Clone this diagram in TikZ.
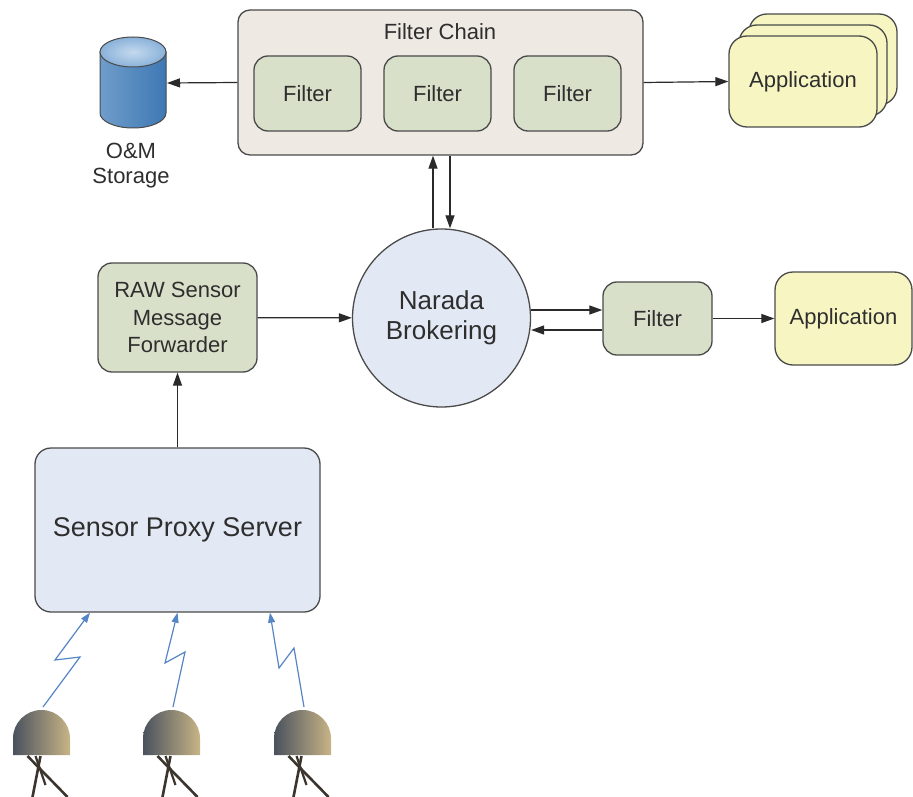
\documentclass[tikz,border=0pt]{standalone}
\usepackage{fontspec}
\setmainfont{Liberation Sans}
\usetikzlibrary{arrows.meta}
\definecolor{bord}{HTML}{4A4A4A}
\definecolor{texte}{HTML}{2E2E2E}
\definecolor{trait}{HTML}{2A2A2A}
\definecolor{beige}{HTML}{EFE9E4}
\definecolor{vert}{HTML}{D9E0C9}
\definecolor{jaune}{HTML}{F7F6C3}
\definecolor{bleuclair}{HTML}{E3E9F4}
\definecolor{bleu}{HTML}{5585C5}
\definecolor{cylG}{HTML}{6F9DCB}
\definecolor{cylD}{HTML}{3E78B3}
\definecolor{cylH}{HTML}{9DC0E3}
\definecolor{domeG}{HTML}{4A525E}
\definecolor{domeM}{HTML}{363A40}
\definecolor{domeD}{HTML}{C8B486}
\definecolor{jambe}{HTML}{3B352E}

\begin{document}
\begin{tikzpicture}[x=1pt,y=-1pt]
\tikzset{boite/.style={draw=bord, line width=1.3pt, rounded corners=14pt, inner sep=0pt, align=center, text=texte, font=\fontsize{22}{27.5}\selectfont},
  filtre/.style={boite, fill=vert, minimum width=107pt, minimum height=75pt},
  appli/.style={boite, fill=jaune, rounded corners=18pt, minimum width=148pt, minimum height=91pt},
  fleche/.style={draw=trait, line width=1.2pt, -{Triangle[length=13pt,width=9pt]}},
  eclair/.style={draw=bleu, line width=1.2pt, -{Triangle[length=10pt,width=7pt]}},
  capteur/.pic={
    \shade[left color=domeG, middle color=domeM, right color=domeD] (-28.5,0) -- (-28.5,-16.5) arc[start angle=180, end angle=360, radius=28.5] -- (28.5,0) -- cycle;
    \draw[jambe, line width=2.6pt] (-14,1) -- (26,42);
    \draw[jambe, line width=2.6pt] (-1,1) -- (-9,42);
    \draw[jambe, line width=2.2pt] (-6,1) -- (4,30);
    \coordinate (-haut) at (1.5,-48);
  }}
\useasboundingbox (0,0) rectangle (913,797);

\node[boite, fill=beige, rounded corners=12pt, minimum width=405pt, minimum height=145pt] (chaine) at (440.5,82.5) {};
\node[text=texte, font=\fontsize{22}{27.5}\selectfont] (titre) at (440,32) {Filter Chain};
\node[filtre] (F1) at (307.5,93.5) {Filter};
\node[filtre] (F2) at (437.5,93.5) {Filter};
\node[filtre] (F3) at (567.5,93.5) {Filter};

\node[appli] (A3) at (823,59.5) {};
\node[appli] (A2) at (813,70.5) {};
\node[appli] (A1) at (803,81.5) {Application};

\shade[left color=cylG, middle color=white!90!cylH, right color=cylD, draw=bord, line width=1pt] (100,52) -- (100,113) arc[start angle=180, end angle=0, x radius=33, y radius=15] -- (166,52) -- cycle;
\shade[inner color=cylH!60!white, outer color=cylH!80!cylD, draw=bord, line width=1pt] (133,52) ellipse[x radius=33, y radius=15];
\coordinate (stock) at (167,83);
\node[text=texte, align=center, font=\fontsize{22}{25}\selectfont] (nom) at (131,166) {O\&M\\Storage};

\node[boite, circle, fill=bleuclair, minimum size=178pt, font=\fontsize{26}{30}\selectfont] (NB) at (441.5,318) {Narada\\Brokering};
\node[boite, fill=vert, minimum width=159pt, minimum height=109pt] (raw) at (177.5,317.5) {RAW Sensor\\Message\\Forwarder};
\node[boite, fill=vert, minimum width=109pt, minimum height=73pt] (F4) at (657.5,318.5) {Filter};
\node[appli, minimum width=137pt, minimum height=93pt] (A4) at (843.5,318.5) {Application};
\node[boite, fill=bleuclair, rounded corners=16pt, minimum width=285pt, minimum height=164pt, font=\fontsize{27}{32}\selectfont] (proxy) at (177.5,530) {Sensor Proxy Server};

\pic (C1) at (41.5,755) {capteur};
\pic (C2) at (171.5,755) {capteur};
\pic (C3) at (302.5,755) {capteur};

\draw[fleche] (chaine.west) -- (stock);
\draw[fleche] (chaine.east) -- (A1.west);
\draw[fleche] ([xshift=-8.5pt]NB.north) -- ([xshift=-7.5pt]chaine.south);
\draw[fleche] ([xshift=9.5pt]chaine.south) -- ([xshift=8.5pt]NB.north);
\draw[fleche] (raw) -- (NB);
\draw[fleche] ([yshift=8pt]NB.east) -- ([yshift=8.5pt]F4.west);
\draw[fleche] ([yshift=-11.5pt]F4.west) -- ([yshift=-12pt]NB.east);
\draw[fleche] (F4) -- (A4);
\draw[fleche] (proxy) -- (raw);

\draw[eclair] (C1-haut) -- ++(37,-50) -- ++(-25,3) -- ([xshift=-87.5pt]proxy.south);
\draw[eclair] (C2-haut) -- ++(12,-55) -- ++(-20,11) -- (proxy.south);
\draw[eclair] (C3-haut) -- ++(-10,-59) -- ++(-15,20) -- ([xshift=92.5pt]proxy.south);
\end{tikzpicture}
\end{document}
